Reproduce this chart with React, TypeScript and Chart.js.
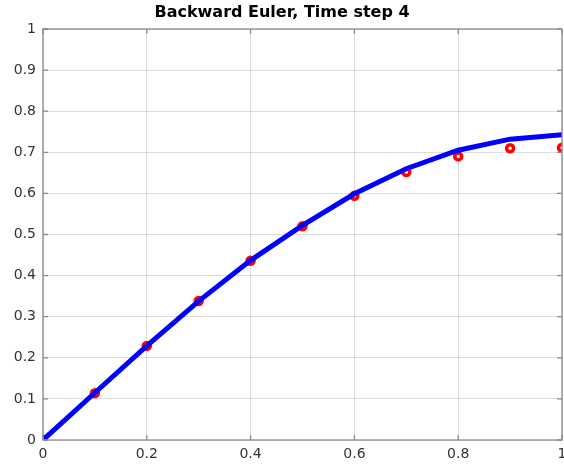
import React, { useEffect, useRef } from "react";
import { Chart, registerables } from "chart.js";

Chart.register(...registerables);

const xValues = [0, 0.1, 0.2, 0.3, 0.4, 0.5, 0.6, 0.7, 0.8, 0.9, 1.0];
const exactValues = [0, 0.115, 0.229, 0.338, 0.437, 0.522, 0.599, 0.66, 0.705, 0.732, 0.743];
const eulerValues = [0, 0.114, 0.229, 0.338, 0.436, 0.52, 0.594, 0.652, 0.69, 0.71, 0.711];
const xTicks = [0, 0.2, 0.4, 0.6, 0.8, 1];
const yTicks = [0, 0.1, 0.2, 0.3, 0.4, 0.5, 0.6, 0.7, 0.8, 0.9, 1];
const titleText = "Backward Euler, Time step 4";

const fmt = (v: number) => String(parseFloat(Number(v).toFixed(1)));

export default function App() {
  const ref = useRef<HTMLCanvasElement | null>(null);
  useEffect(() => {
    if (!ref.current) return;
    const framePlugin = {
      id: "frame",
      afterDraw(chart: any) {
        const { ctx, chartArea } = chart;
        const { left, right, top, bottom } = chartArea;
        const xs = chart.scales.x;
        const ys = chart.scales.y;
        ctx.save();
        ctx.strokeStyle = "#8a8a8a";
        ctx.lineWidth = 1.3;
        ctx.strokeRect(left, top, right - left, bottom - top);
        ctx.beginPath();
        const tl = 5;
        xTicks.forEach((t) => {
          const px = xs.getPixelForValue(t);
          ctx.moveTo(px, bottom);
          ctx.lineTo(px, bottom - tl);
          ctx.moveTo(px, top);
          ctx.lineTo(px, top + tl);
        });
        yTicks.forEach((t) => {
          const py = ys.getPixelForValue(t);
          ctx.moveTo(left, py);
          ctx.lineTo(left + tl, py);
          ctx.moveTo(right, py);
          ctx.lineTo(right - tl, py);
        });
        ctx.stroke();
        ctx.fillStyle = "#000000";
        ctx.font = "bold 16px 'DejaVu Sans'";
        ctx.textAlign = "center";
        ctx.textBaseline = "middle";
        ctx.fillText(titleText, 282, 13);
        ctx.restore();
      },
    };
    const chart = new Chart(ref.current, {
      type: "line",
      data: {
        datasets: [
          {
            label: "exact",
            data: xValues.map((x, i) => ({ x, y: exactValues[i] })),
            borderColor: "#0000ff",
            borderWidth: 5,
            pointRadius: 0,
            fill: false,
            tension: 0,
          },
          {
            label: "euler",
            data: xValues.map((x, i) => ({ x, y: eulerValues[i] })),
            showLine: false,
            pointStyle: "circle",
            pointRadius: 3.5,
            pointBorderWidth: 3.5,
            pointBorderColor: "#ff0000",
            pointBackgroundColor: "#ffffff",
            borderColor: "#ff0000",
          },
        ],
      },
      options: {
        animation: false,
        responsive: false,
        layout: { autoPadding: false, padding: { top: 29, left: 0, right: 2, bottom: 0 } },
        plugins: { legend: { display: false }, title: { display: false }, tooltip: { enabled: false } },
        scales: {
          x: {
            type: "linear",
            min: 0,
            max: 1,
            afterBuildTicks: (s: any) => {
              s.ticks = xTicks.map((v) => ({ value: v }));
            },
            afterFit: (s: any) => {
              s.height = 26;
              s.paddingLeft = 0;
              s.paddingRight = 0;
            },
            grid: { color: "rgba(0,0,0,0.13)", drawTicks: false },
            border: { display: false },
            ticks: {
              padding: 6,
              color: "#333333",
              font: { family: "'DejaVu Sans'", size: 14 },
              maxRotation: 0,
              autoSkip: false,
              callback: (v: any) => fmt(v),
            },
          },
          y: {
            type: "linear",
            min: 0,
            max: 1,
            afterBuildTicks: (s: any) => {
              s.ticks = yTicks.map((v) => ({ value: v }));
            },
            afterFit: (s: any) => {
              s.width = 43;
              s.paddingTop = 0;
              s.paddingBottom = 0;
            },
            grid: { color: "rgba(0,0,0,0.13)", drawTicks: false },
            border: { display: false },
            ticks: {
              padding: 7,
              color: "#333333",
              font: { family: "'DejaVu Sans'", size: 14 },
              autoSkip: false,
              callback: (v: any) => fmt(v),
            },
          },
        },
      },
      plugins: [framePlugin],
    });
    return () => chart.destroy();
  }, []);
  return (
    <div style={{ position: "absolute", left: 0, top: 0, width: 564, height: 466, background: "#ffffff" }}>
      <canvas ref={ref} width={564} height={466} style={{ display: "block" }} />
    </div>
  );
}
